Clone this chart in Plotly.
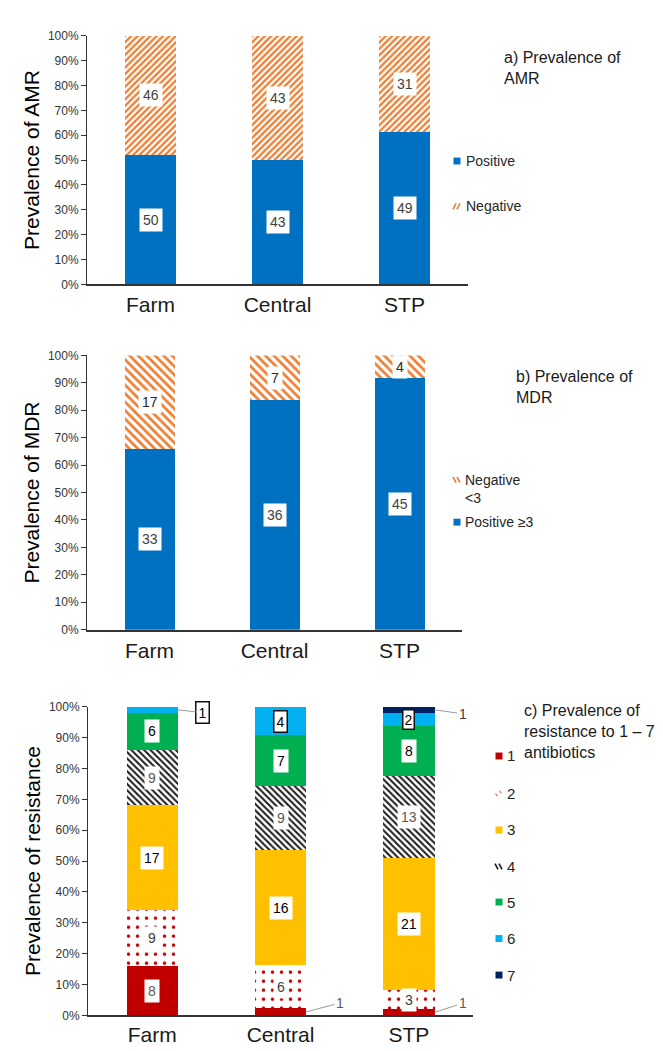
import plotly.graph_objects as go

sites = ["Farm", "Central", "STP"]

# a) AMR counts
amr_pos = [50, 43, 49]
amr_neg = [46, 43, 31]

# b) MDR counts
mdr_pos = [33, 36, 45]
mdr_neg = [17, 7, 4]

# c) number of antibiotics resisted (1..7)
res_labels = ["1", "2", "3", "4", "5", "6", "7"]
res_1 = [8, 1, 1]
res_2 = [9, 6, 3]
res_3 = [17, 16, 21]
res_4 = [9, 9, 13]
res_5 = [6, 7, 8]
res_6 = [1, 4, 2]
res_7 = [0, 0, 1]

FONT = "Arial, Liberation Sans, sans-serif"
BLUE = "#0070C0"
ORANGE = "#ED7D31"
W, H = 663, 1051


def px(x):
    return x / W


def py(y):
    return 1 - y / H


def pct(vals, totals):
    return [v / t * 100 for v, t in zip(vals, totals)]


def hatch(shape, color, size, sol=0.45):
    return dict(color="white", pattern=dict(shape=shape, fgcolor=color, bgcolor="white",
                                            fgopacity=1, size=size, solidity=sol))


fig = go.Figure()

# ---------- a) ----------
amr_tot = [p + n for p, n in zip(amr_pos, amr_neg)]
for name, vals, mk in [("Positive", amr_pos, dict(color=BLUE)),
                       ("Negative", amr_neg, hatch("/", ORANGE, 4.5, 0.5))]:
    fig.add_bar(x=sites, y=pct(vals, amr_tot), name=name, marker=dict(line=dict(width=0), **mk),
                xaxis="x", yaxis="y", width=0.4, customdata=vals,
                hovertemplate="%{x}: %{customdata}<extra>" + name + "</extra>")

# ---------- b) ----------
mdr_tot = [p + n for p, n in zip(mdr_pos, mdr_neg)]
for name, vals, mk in [("Positive ≥3", mdr_pos, dict(color=BLUE)),
                       ("Negative <3", mdr_neg, hatch("\\", ORANGE, 6, 0.45))]:
    fig.add_bar(x=sites, y=pct(vals, mdr_tot), name=name, marker=dict(line=dict(width=0), **mk),
                xaxis="x2", yaxis="y2", width=0.4, customdata=vals,
                hovertemplate="%{x}: %{customdata}<extra>" + name + "</extra>")

# ---------- c) ----------
res_all = [res_1, res_2, res_3, res_4, res_5, res_6, res_7]
res_tot = [sum(col) for col in zip(*res_all)]
RED, YEL, GRN, LBL, NAV = "#C00000", "#FFC000", "#00B050", "#00B0F0", "#002060"
res_marker = [
    dict(color=RED),
    hatch(".", RED, 9, 0.12),
    dict(color=YEL),
    hatch("\\", "#1a1a1a", 4.5, 0.45),
    dict(color=GRN),
    dict(color=LBL),
    dict(color=NAV),
]
for lab, vals, mk in zip(res_labels, res_all, res_marker):
    fig.add_bar(x=sites, y=pct(vals, res_tot), name=lab, marker=dict(line=dict(width=0), **mk),
                xaxis="x3", yaxis="y3", width=0.4, customdata=vals,
                hovertemplate="%{x}: %{customdata}<extra>" + lab + "</extra>")

# ---------- value labels ----------
ann = []


def seg_labels(xref, yref, series_vals, totals, colors, special=None):
    special = special or {}
    for si, vals in enumerate(series_vals):
        for ci, v in enumerate(vals):
            if v == 0:
                continue
            base = sum(series_vals[k][ci] for k in range(si)) / totals[ci] * 100
            mid = base + v / totals[ci] * 50
            a = dict(x=ci, y=mid, xref=xref, yref=yref, text=str(v), showarrow=False,
                     bgcolor="white", borderpad=3,
                     font=dict(family=FONT, size=14, color=colors[si]))
            if (si, ci) in special:
                a.update(special[(si, ci)])
            ann.append(a)


seg_labels("x", "y", [amr_pos, amr_neg], amr_tot, ["#404040", "#404040"])
seg_labels("x2", "y2", [mdr_pos, mdr_neg], mdr_tot, ["#404040", "#262626"])

lead = dict(showarrow=True, arrowhead=0, arrowwidth=1, arrowcolor="#9a9a9a")
c_special = {
    (0, 1): dict(x=1.2, ax=34, ay=-9, bgcolor="rgba(0,0,0,0)", borderpad=1, **lead),
    (0, 2): dict(x=2.2, ax=28, ay=-9, bgcolor="rgba(0,0,0,0)", borderpad=1, **lead),
    (5, 0): dict(x=0.2, ax=25, ay=3, bordercolor="#111", borderwidth=1.5, borderpad=2, **lead),
    (5, 1): dict(bordercolor="#111", borderwidth=1.5, borderpad=2),
    (5, 2): dict(bordercolor="#111", borderwidth=1.5, borderpad=1),
    (6, 2): dict(x=2.2, ax=28, ay=4, bgcolor="rgba(0,0,0,0)", borderpad=1, **lead),
}
c_cols = ["#595959", "#404040", "black", "#595959", "black", "black", "#404040"]
seg_labels("x3", "y3", res_all, res_tot, c_cols, special=c_special)

# ---------- panel titles ----------
for t, x0, ytop in [("a) Prevalence of<br>AMR", 494, 32),
                    ("b) Prevalence of<br>MDR", 506, 356),
                    ("c) Prevalence of<br>resistance to 1 – 7<br>antibiotics", 514, 694)]:
    ann.append(dict(x=px(x0), y=py(ytop), xref="paper", yref="paper", text=t, showarrow=False,
                    xanchor="left", yanchor="top", align="left",
                    font=dict(family=FONT, size=16, color="#1a1a1a")))

# ---------- legends (drawn as swatch + text) ----------
shapes = []


def swatch(cx, cy, kind, color):
    if kind == "solid":
        shapes.append(dict(type="rect", xref="paper", yref="paper",
                           x0=px(cx - 3.5), x1=px(cx + 3.5), y0=py(cy + 3.5), y1=py(cy - 3.5),
                           fillcolor=color, line=dict(width=0)))
    elif kind in ("/", "\\"):
        for off in (-2.5, 1.5):
            if kind == "/":
                x0, y0, x1, y1 = cx + off - 1.5, cy + 3, cx + off + 1.5, cy - 3
            else:
                x0, y0, x1, y1 = cx + off - 1.5, cy - 3, cx + off + 1.5, cy + 3
            shapes.append(dict(type="line", xref="paper", yref="paper",
                               x0=px(x0), y0=py(y0), x1=px(x1), y1=py(y1),
                               line=dict(color=color, width=1.6)))
    elif kind == "dots":
        for (dx, dy) in [(-2.5, 1.5), (1.5, -1.5)]:
            shapes.append(dict(type="line", xref="paper", yref="paper",
                               x0=px(cx + dx - 1), y0=py(cy + dy - 1), x1=px(cx + dx + 1), y1=py(cy + dy + 1),
                               line=dict(color=color, width=1)))


def leg_text(x, y, text, size=14):
    ann.append(dict(x=px(x), y=py(y), xref="paper", yref="paper", text=text, showarrow=False,
                    xanchor="left", yanchor="middle", align="left",
                    font=dict(family=FONT, size=size, color="#262626")))


# a)
swatch(449, 148, "solid", BLUE)
leg_text(456, 148, "Positive")
swatch(449, 194, "/", ORANGE)
leg_text(456, 194, "Negative")
# b)
swatch(449, 471, "\\", ORANGE)
leg_text(455, 480, "Negative<br><3")
swatch(449, 514, "solid", BLUE)
leg_text(455, 514, "Positive ≥3")
# c)
c_kinds = [("solid", RED), ("dots", RED), ("solid", YEL), ("\\", "#1a1a1a"),
           ("solid", GRN), ("solid", LBL), ("solid", NAV)]
c_ys = [751, 789, 826, 863, 899, 936, 973]
for lab, (kind, col), yy in zip(res_labels, c_kinds, c_ys):
    swatch(491, yy, kind, col)
    leg_text(497, yy, lab, size=15)

# ---------- axes ----------
yax_common = dict(range=[0, 100], dtick=10, ticksuffix="%", showgrid=False, zeroline=False,
                  showline=True, linecolor="#333", linewidth=1, ticks="outside", ticklen=5,
                  tickcolor="#333", tickfont=dict(family=FONT, size=12, color="#333"),
                  fixedrange=True)
xax_common = dict(type="category", categoryorder="array", categoryarray=sites, range=[-0.5, 2.5],
                  showline=True, linecolor="#333", linewidth=1.5, ticks="", showgrid=False,
                  tickfont=dict(family=FONT, size=21, color="#1a1a1a"),
                  fixedrange=True)


def ytitle(t):
    return dict(text=t, font=dict(family=FONT, size=21, color="black"), standoff=2)


fig.update_layout(
    width=W, height=H,
    margin=dict(l=0, r=0, t=0, b=0),
    paper_bgcolor="white", plot_bgcolor="white",
    barmode="stack", showlegend=False,
    font=dict(family=FONT),
    xaxis=dict(domain=[px(79), px(460)], anchor="y", ticklabelstandoff=1, **xax_common),
    yaxis=dict(domain=[py(273), py(21)], anchor="x", title=ytitle("Prevalence of AMR"), **yax_common),
    xaxis2=dict(domain=[px(79), px(454)], anchor="y2", ticklabelstandoff=1, **xax_common),
    yaxis2=dict(domain=[py(623), py(345)], anchor="x2", title=ytitle("Prevalence of MDR"), **yax_common),
    xaxis3=dict(domain=[px(80), px(465)], anchor="y3", ticklabelstandoff=0, **xax_common),
    yaxis3=dict(domain=[py(1014), py(701)], anchor="x3", title=ytitle("Prevalence of resistance"), **yax_common),
    annotations=ann,
    shapes=shapes,
)

fig.write_html("out.html")
